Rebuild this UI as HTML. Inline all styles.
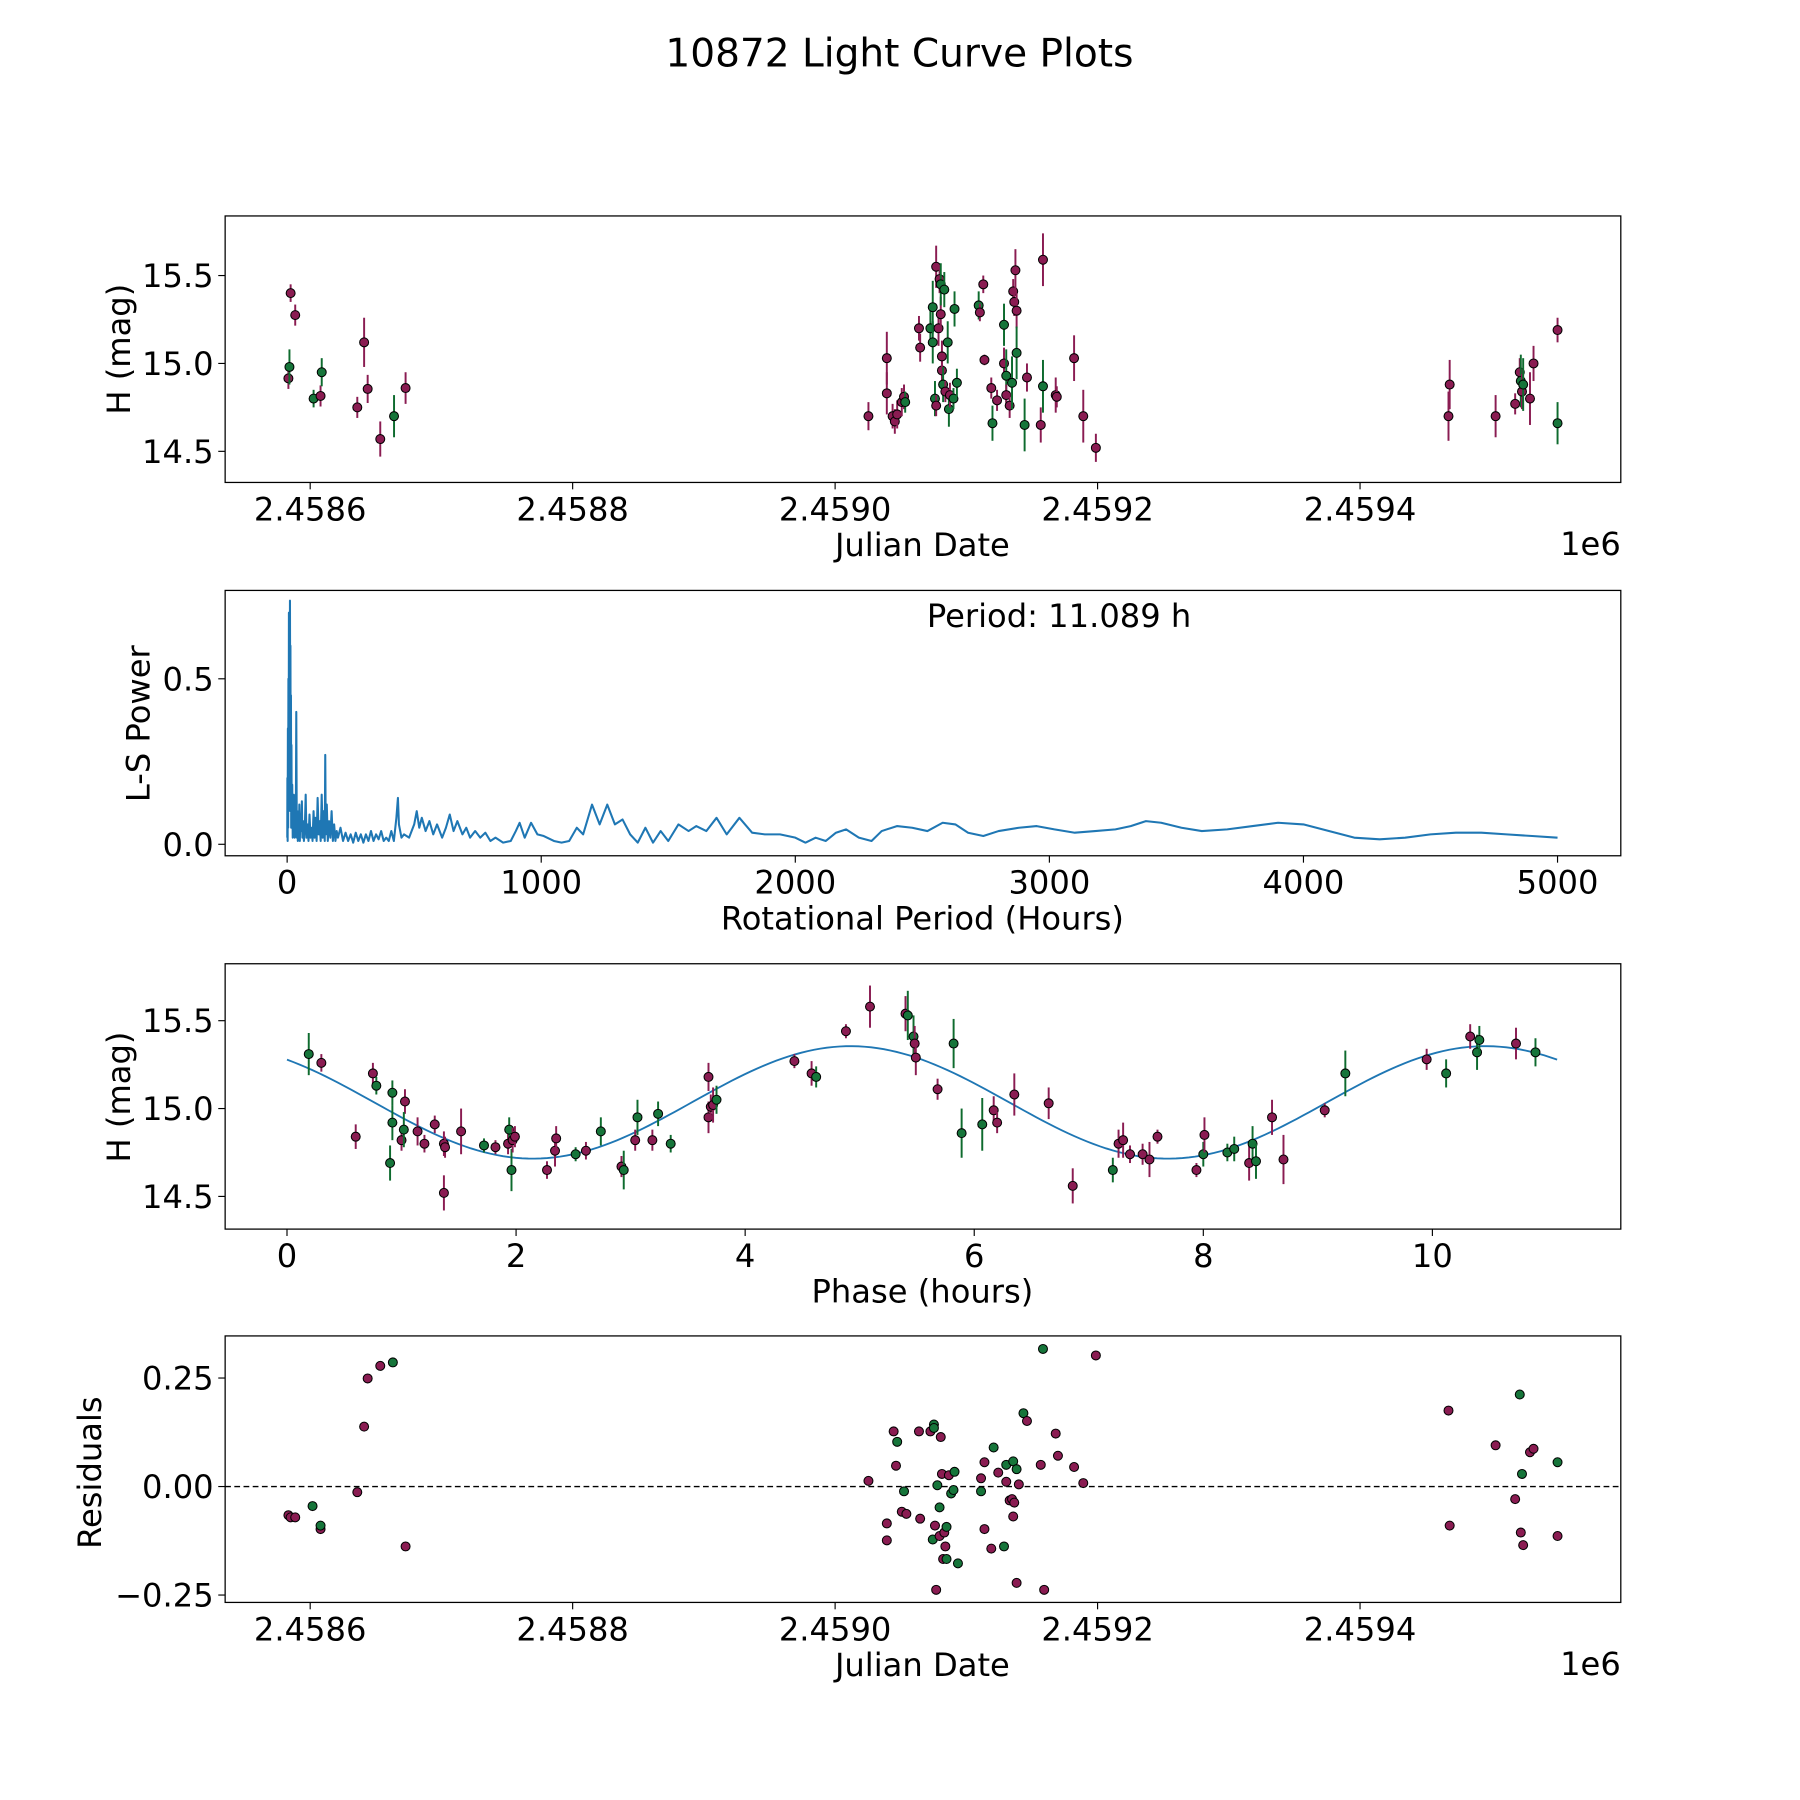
<!DOCTYPE html>
<html><head><meta charset="utf-8"><style>
html,body{margin:0;padding:0;background:#fff}
svg{display:block}
text{font-family:"DejaVu Sans","Liberation Sans",sans-serif;fill:#000}
</style></head><body>
<svg id="fig" width="1800" height="1800" viewBox="0 0 1567 1567" xmlns="http://www.w3.org/2000/svg">
<rect width="1567" height="1567" fill="#fff"/>
<text x="783" y="58" font-size="34" text-anchor="middle">10872 Light Curve Plots</text>
</svg>
<script>
// ---------- Panel 1 data: days since 2458600, H mag, error, band ----------
const p1Days=[-16.6,-15.8,-14.9,-11.4,2.6,7.9,8.8,35.9,41.1,43.8,53.4,63.9,72.7,
425.4,439.4,439.4,443.8,445.5,447.3,450.8,452.5,453.4,463.9,464.8,472.6,474.4,474.4,476.1,477.0,477.0,478.8,479.6,480.5,480.5,481.4,481.4,482.3,483.2,484.0,485.8,486.7,487.5,490.2,491.0,492.8,
509.4,510.3,512.9,513.8,519.0,519.9,523.4,528.7,528.7,530.4,530.4,533.0,534.8,535.7,536.5,537.4,538.3,538.3,544.4,546.2,556.7,558.4,558.4,568.1,568.9,582.1,589.1,598.7,
867.4,868.3,903.3,918.2,921.7,922.5,923.4,924.3,929.5,932.2,950.5,950.5];
const p1Mag=[14.915,14.98,15.40,15.275,14.80,14.815,14.95,14.75,15.12,14.855,14.57,14.70,14.86,
14.70,15.03,14.83,14.70,14.67,14.71,14.78,14.81,14.78,15.20,15.09,15.20,15.32,15.12,14.80,14.76,15.55,15.20,15.48,15.28,15.45,14.96,15.04,14.88,15.42,14.84,15.12,14.74,14.82,14.80,15.31,14.89,
15.33,15.29,15.45,15.02,14.86,14.66,14.79,15.22,15.00,14.93,14.82,14.76,14.89,15.41,15.35,15.53,15.30,15.06,14.65,14.92,14.65,15.59,14.87,14.82,14.81,15.03,14.70,14.52,
14.70,14.88,14.70,14.77,14.95,14.90,14.84,14.88,14.80,15.00,15.19,14.66];
const p1Err=[0.06,0.1,0.05,0.06,0.05,0.06,0.08,0.06,0.14,0.08,0.1,0.12,0.09,
0.08,0.15,0.12,0.07,0.07,0.08,0.08,0.07,0.06,0.07,0.08,0.1,0.15,0.12,0.1,0.06,0.12,0.1,0.08,0.1,0.12,0.08,0.09,0.1,0.1,0.06,0.12,0.1,0.07,0.06,0.1,0.08,
0.08,0.05,0.05,0.03,0.06,0.1,0.06,0.12,0.09,0.15,0.06,0.07,0.15,0.07,0.08,0.12,0.1,0.15,0.15,0.08,0.1,0.15,0.15,0.1,0.06,0.13,0.15,0.08,
0.14,0.14,0.12,0.06,0.08,0.15,0.1,0.15,0.15,0.1,0.07,0.12];
const p1Band=["m","g","m","m","g","m","g","m","m","m","m","g","m",
"m","m","m","m","m","m","m","m","g","m","m","g","g","g","g","m","m","m","m","m","g","m","m","g","g","m","g","g","m","g","g","g",
"g","m","m","m","m","g","m","g","m","g","m","m","g","m","m","m","m","g","g","m","m","m","g","m","m","m","m","m",
"m","m","m","m","m","g","m","g","m","m","m","g"];

// ---------- Panel 2 data: Lomb-Scargle periodogram (each line: 10 periods / 10 powers) ----------
const lsPeriod=[
0.5,1,2,3,4,5,6,7,8,9,
10,11.1,12,13,14,15,16,17,18,20,
22,24,26,28,30,32,34,36,38,40,
42,44,46,48,50,52,55,58,60,63,
66,70,73,76,80,84,88,92,96,100,
104,108,112,116,120,124,128,132,136,140,
144,148,150,152,156,160,165,170,175,180,
185,190,195,200,210,220,230,240,250,260,
270,280,290,300,310,320,330,340,350,360,
370,380,390,400,410,420,430,436,440,445,
450,460,480,500,510,520,530,545,560,575,
590,610,625,640,655,670,690,705,720,740,
760,780,800,820,850,880,900,915,935,960,
985,1010,1050,1080,1110,1140,1165,1200,1230,1260,
1290,1320,1350,1380,1410,1440,1470,1500,1540,1580,
1610,1650,1690,1730,1780,1830,1880,1940,2000,2040,
2080,2120,2160,2200,2250,2300,2340,2400,2460,2520,
2580,2630,2680,2740,2800,2880,2950,3020,3100,3180,
3260,3320,3380,3440,3520,3600,3700,3800,3900,4000,
4100,4200,4300,4400,4500,4600,4700,4800,4900,5000];
const lsPower=[
0.02,0.2,0.01,0.35,0.05,0.5,0.1,0.7,0.25,0.6,
0.3,0.736,0.4,0.6,0.1,0.45,0.05,0.3,0.08,0.18,
0.02,0.15,0.04,0.12,0.02,0.15,0.03,0.4,0.02,0.1,
0.01,0.08,0.02,0.12,0.01,0.09,0.04,0.13,0.02,0.07,
0.01,0.06,0.15,0.02,0.06,0.01,0.09,0.02,0.05,0.01,
0.1,0.02,0.08,0.01,0.14,0.03,0.07,0.01,0.15,0.02,
0.1,0.01,0.27,0.03,0.12,0.01,0.07,0.02,0.1,0.01,
0.06,0.01,0.04,0.02,0.05,0.01,0.035,0.01,0.03,0.005,
0.035,0.01,0.03,0.005,0.03,0.01,0.04,0.01,0.03,0.015,
0.04,0.01,0.02,0.01,0.04,0.01,0.08,0.14,0.06,0.04,
0.02,0.03,0.02,0.06,0.1,0.05,0.08,0.04,0.07,0.03,
0.06,0.02,0.05,0.09,0.04,0.07,0.03,0.05,0.02,0.04,
0.02,0.035,0.01,0.02,0.005,0.01,0.04,0.065,0.02,0.065,
0.03,0.025,0.01,0.005,0.01,0.05,0.03,0.12,0.06,0.12,
0.06,0.075,0.03,0.005,0.05,0.005,0.04,0.01,0.06,0.04,
0.055,0.04,0.08,0.03,0.08,0.035,0.03,0.03,0.02,0.005,
0.02,0.01,0.035,0.045,0.02,0.01,0.04,0.055,0.05,0.04,
0.065,0.06,0.035,0.025,0.04,0.05,0.055,0.045,0.035,0.04,
0.045,0.055,0.07,0.065,0.05,0.04,0.045,0.055,0.065,0.06,
0.04,0.02,0.015,0.02,0.03,0.035,0.035,0.03,0.025,0.02];
const lsLabel=["Period: 11.089 h"];

// ---------- Panel 3 data: phase-folded ----------
const phPhase=[0.19,0.30,0.60,0.75,0.78,0.90,0.92,0.92,1.00,1.03,1.02,1.14,1.20,1.29,1.37,1.37,1.38,1.52,1.72,1.82,1.93,1.94,1.96,1.97,1.99,2.27,2.34,2.35,2.52,2.61,2.74,2.92,2.94,3.04,3.06,3.19,3.24,3.35,3.68,3.68,3.70,3.72,3.75,4.43,4.58,4.62,4.88,5.09,5.40,5.42,5.47,5.48,5.49,5.68,5.82,5.89,6.07,6.17,6.20,6.35,6.65,6.86,7.21,7.26,7.30,7.36,7.47,7.53,7.60,7.94,8.00,8.01,8.21,8.27,8.40,8.43,8.46,8.60,8.70,9.06,9.24,9.95,10.12,10.33,10.39,10.41,10.73,10.90];
const phMag=[15.31,15.26,14.84,15.20,15.13,14.69,15.09,14.92,14.82,15.04,14.88,14.87,14.80,14.91,14.80,14.52,14.78,14.87,14.79,14.78,14.80,14.88,14.65,14.82,14.84,14.65,14.76,14.83,14.74,14.76,14.87,14.67,14.65,14.82,14.95,14.82,14.97,14.80,15.18,14.95,15.01,15.02,15.05,15.27,15.20,15.18,15.44,15.58,15.54,15.53,15.41,15.37,15.29,15.11,15.37,14.86,14.91,14.99,14.92,15.08,15.03,14.56,14.65,14.80,14.82,14.74,14.74,14.71,14.84,14.65,14.74,14.85,14.75,14.77,14.69,14.80,14.70,14.95,14.71,14.99,15.20,15.28,15.20,15.41,15.32,15.39,15.37,15.32];
const phErr=[0.12,0.05,0.07,0.06,0.05,0.1,0.07,0.1,0.06,0.07,0.1,0.08,0.05,0.05,0.07,0.1,0.06,0.13,0.04,0.04,0.06,0.07,0.12,0.07,0.06,0.05,0.09,0.07,0.04,0.05,0.08,0.06,0.11,0.06,0.1,0.06,0.07,0.05,0.08,0.09,0.07,0.1,0.08,0.04,0.07,0.06,0.04,0.12,0.1,0.14,0.12,0.1,0.1,0.06,0.14,0.14,0.15,0.08,0.06,0.12,0.09,0.1,0.07,0.08,0.1,0.05,0.06,0.1,0.04,0.04,0.07,0.1,0.05,0.07,0.1,0.1,0.1,0.1,0.14,0.04,0.13,0.06,0.08,0.07,0.1,0.08,0.09,0.08];
const phBand=["g","m","m","m","g","g","g","g","m","m","g","m","m","m","m","m","m","m","g","m","m","g","g","m","m","m","m","m","g","m","g","m","g","m","g","m","g","g","m","m","m","m","g","m","m","g","m","m","m","g","g","m","m","m","g","g","g","m","m","m","m","m","g","m","m","m","m","m","m","m","g","m","g","g","m","g","g","m","m","m","g","m","g","m","g","g","m","g"];
// sinusoidal fit parameters: mean, amplitude, peak phase, harmonic period (h), full period (h)
const fitMean=[15.035], fitAmp=[0.32], fitPeak=[4.92], fitHalf=[5.5445], fitPeriod=[11.089];

// ---------- Panel 4 data: residuals ----------
const rDays=[-16.6,-14.9,-11.4,1.8,7.9,7.9,35.9,41.1,43.8,53.4,63.0,72.7,
425.4,439.4,439.4,444.6,446.4,447.3,450.8,452.5,454.3,463.9,464.8,472.6,475.3,475.3,474.4,476.1,477.0,477.9,479.6,479.6,480.5,481.4,482.3,483.2,484.0,484.9,484.9,486.7,488.4,490.2,491.0,493.6,511.2,511.2,513.8,513.8,519.0,520.8,524.3,528.7,530.4,530.4,533.0,534.8,535.7,535.7,536.5,538.3,538.3,540.0,543.5,546.2,556.7,558.4,559.3,568.1,569.8,582.1,589.1,598.7,
867.4,868.3,903.3,918.2,921.7,922.5,923.4,924.3,929.5,932.2,950.5,950.5];
const rRes=[-0.066,-0.071,-0.071,-0.045,-0.098,-0.090,-0.013,0.138,0.249,0.278,0.286,-0.138,
0.013,-0.085,-0.124,0.127,0.048,0.103,-0.058,-0.011,-0.063,0.127,-0.074,0.127,0.143,0.135,-0.122,-0.090,-0.238,0.003,-0.048,-0.114,0.114,0.029,-0.167,-0.106,-0.138,-0.167,-0.093,0.026,-0.016,-0.008,0.034,-0.177,-0.011,0.019,0.056,-0.098,-0.143,0.090,0.032,-0.138,0.050,0.011,-0.032,-0.029,-0.069,0.058,-0.037,-0.222,0.040,0.005,0.169,0.151,0.050,0.317,-0.238,0.122,0.071,0.045,0.008,0.302,
0.175,-0.090,0.095,-0.029,0.212,-0.106,0.029,-0.135,0.079,0.087,0.056,-0.114];
const rBand=["m","m","m","g","m","g","m","m","m","m","g","m",
"m","m","m","m","m","g","m","g","m","m","m","m","g","g","g","m","m","g","g","m","m","m","m","m","m","g","g","m","g","g","g","g","g","m","m","m","m","g","m","g","g","m","m","m","m","g","m","m","g","m","g","m","m","g","m","m","m","m","m","m",
"m","m","m","m","g","m","g","m","m","m","g","m"];

const jdTicks=[0,200,400,600,800], jdTickLabels=["2.4586","2.4588","2.4590","2.4592","2.4594"];
const magTicks=[14.5,15.0,15.5], magTickLabels=["14.5","15.0","15.5"];
const lsXTicks=[0,1000,2000,3000,4000,5000], lsXLabels=["0","1000","2000","3000","4000","5000"];
const lsYTicks=[0,0.5], lsYLabels=["0.0","0.5"];
const phTicks=[0,2,4,6,8,10], phTickLabels=["0","2","4","6","8","10"];
const resTicks=[-0.25,0,0.25], resTickLabels=["\u22120.25","0.00","0.25"];

const NS="http://www.w3.org/2000/svg";
const svg=document.getElementById('fig');
const COL={m:{fill:"#8a1c52",bar:"#8a1c52"},g:{fill:"#16753a",bar:"#0e6b2e"}};
function mk(tag,attrs,parent){const e=document.createElementNS(NS,tag);for(const k in attrs)e.setAttribute(k,attrs[k]);(parent||svg).appendChild(e);return e;}
function lin(d0,d1,r0,r1){return v=>r0+(v-d0)*(r1-r0)/(d1-d0);}

function panel(name,L,R,T,B,xd,yd){
  const g=mk('g',{});
  
  
  return {g,L,R,T,B,x:lin(xd[0],xd[1],L,R),y:lin(yd[0],yd[1],B,T)};
}
function frame(p){
  const r=mk('rect',{x:p.L,y:p.T,width:p.R-p.L,height:p.B-p.T,fill:'none',stroke:'#000','stroke-width':1.1},p.g);
  
  
}
function xTicks(p,vals,labels){
  vals.forEach((v,i)=>{const X=p.x(v);
    mk('line',{x1:X,x2:X,y1:p.B,y2:p.B+6,stroke:'#000','stroke-width':1},p.g);
    const t=mk('text',{x:X,y:p.B+33,'font-size':28,'text-anchor':'middle'},p.g);t.textContent=labels[i];
    
    
  });
}
function yTicks(p,vals,labels){
  vals.forEach((v,i)=>{const Y=p.y(v);
    mk('line',{x1:p.L-6,x2:p.L,y1:Y,y2:Y,stroke:'#000','stroke-width':1},p.g);
    const t=mk('text',{x:p.L-10,y:Y+10,'font-size':28,'text-anchor':'end'},p.g);t.textContent=labels[i];
    
    
  });
}
function label(p,txt,x,y,rot,name){
  const t=mk('text',{x:x,y:y,'font-size':28,'text-anchor':'middle'},p.g);
  if(rot)t.setAttribute('transform','rotate(-90 '+x+' '+y+')');
  t.textContent=txt;
  
  
}
function errPoints(p,xs,ys,es,bands,name){
  xs.forEach((xv,i)=>{const X=p.x(xv),Y=p.y(ys[i]),c=COL[bands[i]];
    if(es){mk('line',{x1:X,x2:X,y1:p.y(ys[i]-es[i]),y2:p.y(ys[i]+es[i]),stroke:c.bar,'stroke-width':1.7},p.g);}
    const d=mk('circle',{cx:X,cy:Y,r:3.9,fill:c.fill,stroke:'#000','stroke-width':0.9},p.g);
    
    
  });
}

// Panel 1
const p1=panel('raw-light-curve-panel',196,1411,188,420,[-64.8,998.7],[14.323,15.839]);
xTicks(p1,jdTicks,jdTickLabels);yTicks(p1,magTicks,magTickLabels);
errPoints(p1,p1Days,p1Mag,p1Err,p1Band,'observation-point');
frame(p1);
label(p1,'Julian Date',803,484,false,'x-axis-title');
label(p1,'H (mag)',113,304,true,'y-axis-title');
{const t=mk('text',{x:1411,y:483,'font-size':28,'text-anchor':'end'},p1.g);t.textContent='1e6';

}

// Panel 2
const p2=panel('periodogram-panel',196,1411,514,745,[-244,5249],[-0.0347,0.767]);
xTicks(p2,lsXTicks,lsXLabels);yTicks(p2,lsYTicks,lsYLabels);
{const pts=lsPeriod.map((v,i)=>p2.x(v).toFixed(2)+','+p2.y(lsPower[i]).toFixed(2)).join(' ');
const pl=mk('polyline',{points:pts,fill:'none',stroke:'#1f77b4','stroke-width':1.8,'stroke-linejoin':'round'},p2.g);

}
frame(p2);
label(p2,'Rotational Period (Hours)',803,809,false,'x-axis-title');
label(p2,'L-S Power',130,630,true,'y-axis-title');
{const t=mk('text',{x:922,y:546,'font-size':28,'text-anchor':'middle'},p2.g);t.textContent=lsLabel[0];

}

// Panel 3
const p3=panel('phase-folded-panel',196,1411,839,1070,[-0.54,11.645],[14.314,15.824]);
xTicks(p3,phTicks,phTickLabels);yTicks(p3,magTicks,magTickLabels);
{const pts=[];for(let i=0;i<=200;i++){const x=fitPeriod[0]*i/200;pts.push(p3.x(x).toFixed(2)+','+p3.y(fitMean[0]+fitAmp[0]*Math.cos(2*Math.PI*(x-fitPeak[0])/fitHalf[0])).toFixed(2));}
const pl=mk('polyline',{points:pts.join(' '),fill:'none',stroke:'#1f77b4','stroke-width':1.6},p3.g);

}
errPoints(p3,phPhase,phMag,phErr,phBand,'phased-point');
frame(p3);
label(p3,'Phase (hours)',803,1134,false,'x-axis-title');
label(p3,'H (mag)',113,955,true,'y-axis-title');

// Panel 4
const p4=panel('residuals-panel',196,1411,1163,1395,[-64.8,998.7],[-0.267,0.347]);
xTicks(p4,jdTicks,jdTickLabels);yTicks(p4,resTicks,resTickLabels);
{const l=mk('line',{x1:p4.L,x2:p4.R,y1:p4.y(0),y2:p4.y(0),stroke:'#000','stroke-width':1.2,'stroke-dasharray':'5,3'},p4.g);

}
errPoints(p4,rDays,rRes,null,rBand,'residual-point');
frame(p4);
label(p4,'Julian Date',803,1459,false,'x-axis-title');
label(p4,'Residuals',88,1282,true,'y-axis-title');
{const t=mk('text',{x:1411,y:1458,'font-size':28,'text-anchor':'end'},p4.g);t.textContent='1e6';

}
</script>
</body></html>
